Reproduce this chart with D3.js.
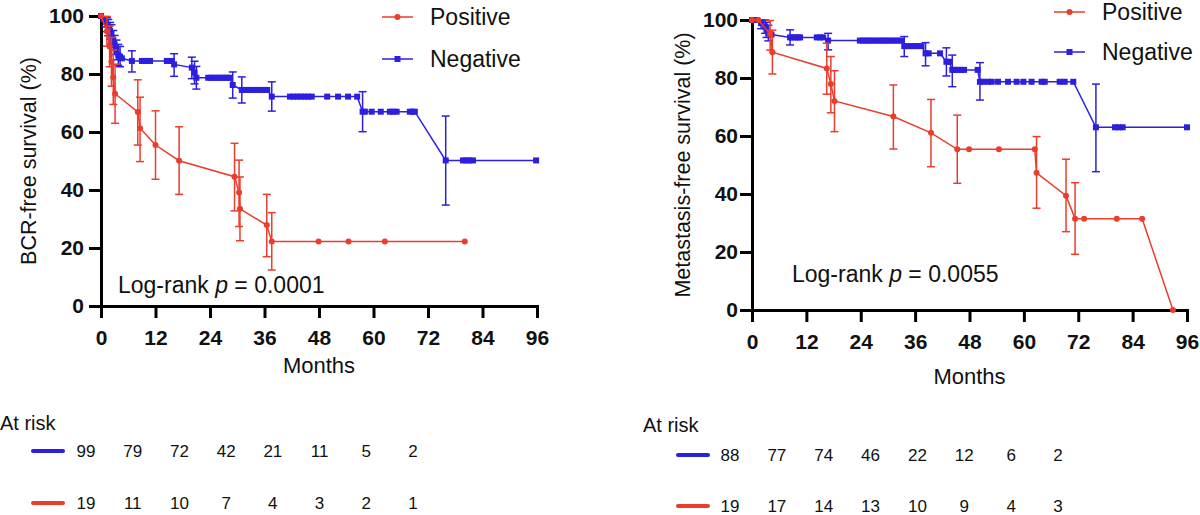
<!DOCTYPE html>
<html>
<head>
<meta charset="utf-8">
<script src="https://cdn.jsdelivr.net/npm/d3@7"></script>
<style>
  body { margin: 0; background: #fff; }
  text { font-family: "Liberation Sans", Arial, sans-serif; fill: #111; }
</style>
</head>
<body>
<script>
// ticks
var months = [0, 12, 24, 36, 48, 60, 72, 84, 96];
var percentTicks = [0, 20, 40, 60, 80, 100];
var riskMonths = [0, 12, 24, 36, 48, 60, 72, 84];

// [month, survival %, lower, upper]; points without bounds are censored marks
var bcrPositive = [
  [0, 100], [1.3, 94.7, 89.6, 99.8], [1.9, 89.5, 82.5, 96.5], [2.3, 84.2, 75.8, 92.6],
  [2.7, 78.9, 69.5, 88.3], [3.1, 73.2, 63.0, 83.4], [8.1, 66.9, 55.5, 78.0],
  [8.6, 61.3, 49.8, 72.0], [12.0, 55.5, 43.7, 67.3], [17.2, 50.1, 38.5, 61.8],
  [29.4, 44.6, 32.8, 56.1], [30.4, 39.1, 27.4, 50.3], [30.6, 33.5, 22.5, 44.5],
  [36.5, 27.9, 17.0, 38.5], [37.6, 22.2, 12.4, 32.2],
  [47.9, 22.2], [54.5, 22.2], [62.5, 22.2], [80.1, 22.2]
];
var bcrNegative = [
  [0, 100], [0.5, 99.0], [1.0, 98.0, 96.2, 99.8], [1.3, 97.0, 94.6, 99.4],
  [1.6, 96.0, 93.2, 98.8], [2.0, 94.9, 92.0, 97.8], [2.3, 93.8, 90.6, 97.0],
  [2.7, 91.7, 88.4, 95.0], [3.0, 90.0, 86.7, 93.3], [3.4, 88.3, 84.9, 91.7],
  [3.8, 86.6, 83.0, 90.2], [4.2, 86.0, 82.5, 89.5], [4.6, 85.4],
  [6.8, 84.5, 80.7, 88.0], [9.0, 84.5], [9.5, 84.5], [10.2, 84.5], [10.8, 84.5],
  [14.5, 84.5], [15.0, 84.5], [15.6, 84.5],
  [16.1, 83.3, 79.2, 87.0], [20.0, 82.2, 78.4, 85.8], [20.6, 80.5, 76.6, 84.4],
  [21.0, 78.7, 74.8, 82.6],
  [23.6, 78.7], [24.2, 78.7], [24.8, 78.7], [25.4, 78.7], [26.0, 78.7],
  [26.6, 78.7], [27.2, 78.7], [27.8, 78.7], [28.4, 78.7],
  [29.0, 76.2, 71.7, 80.7], [31.0, 74.5, 70.0, 79.0],
  [31.8, 74.5], [32.6, 74.5], [33.4, 74.5], [34.2, 74.5], [35.0, 74.5],
  [35.8, 74.5], [36.6, 74.5],
  [37.6, 72.2, 67.2, 77.3],
  [41.6, 72.2], [42.4, 72.2], [43.2, 72.2], [44.0, 72.2], [44.8, 72.2],
  [45.6, 72.2], [46.4, 72.2], [49.8, 72.2], [52.2, 72.2], [54.4, 72.2], [56.4, 72.2],
  [57.6, 67.0, 60.1, 73.9],
  [58.1, 67.0], [59.6, 67.0], [61.6, 67.0], [63.6, 67.0], [64.3, 67.0],
  [65.1, 67.0], [68.0, 67.0], [68.6, 67.0], [69.1, 67.0],
  [75.9, 50.2, 34.8, 65.5],
  [79.7, 50.2], [80.4, 50.2], [81.1, 50.2], [81.9, 50.2], [95.8, 50.2]
];
var metPositive = [
  [0, 100], [1.4, 100], [4.0, 95.2, 89.6, 99.8], [4.5, 88.9, 81.4, 96.5],
  [16.5, 83.3, 74.4, 92.0], [17.4, 77.9, 68.0, 87.4], [18.2, 72.1, 61.5, 82.5],
  [31.2, 66.7, 55.5, 77.6], [39.5, 61.1, 49.4, 72.6], [45.3, 55.4, 43.7, 67.2],
  [47.9, 55.4], [54.5, 55.4], [62.4, 55.4],
  [62.8, 47.3, 35.1, 59.8], [69.3, 39.4, 27.0, 52.0], [71.3, 31.5, 19.2, 43.9],
  [73.3, 31.5], [80.5, 31.5], [86.1, 31.5], [92.9, 0]
];
var metNegative = [
  [0, 100], [1.0, 100], [2.0, 98.9, 97.0, 100], [2.9, 97.7, 95.4, 100],
  [3.2, 96.6, 94.0, 99.2], [3.6, 95.5, 92.8, 98.2], [4.3, 95.0],
  [8.4, 94.0, 91.4, 96.6],
  [9.0, 94.0], [9.6, 94.0], [10.2, 94.0], [10.6, 94.0], [14.3, 94.0], [15.0, 94.0], [15.7, 94.0],
  [16.8, 92.9, 89.7, 95.4],
  [23.8, 92.9], [24.5, 92.9], [25.2, 92.9], [25.9, 92.9], [26.6, 92.9], [27.3, 92.9],
  [28.0, 92.9], [28.7, 92.9], [29.4, 92.9], [30.1, 92.9], [30.8, 92.9], [31.5, 92.9],
  [32.2, 92.9], [32.9, 92.9],
  [33.6, 91.0, 87.4, 94.3],
  [34.3, 91.0], [35.0, 91.0], [35.8, 91.0], [36.6, 91.0], [37.4, 91.0],
  [38.3, 88.5, 84.2, 92.2], [39.0, 88.5], [41.5, 88.5],
  [42.9, 85.6, 80.7, 90.4], [43.5, 85.6],
  [44.2, 82.8, 77.0, 87.9],
  [44.8, 82.8], [45.5, 82.8], [46.2, 82.8], [46.8, 82.8], [49.8, 82.8],
  [50.3, 78.7, 72.4, 85.3],
  [51.0, 78.7], [52.1, 78.7], [52.9, 78.7], [54.3, 78.7], [56.5, 78.7], [58.4, 78.7],
  [59.9, 78.7], [61.7, 78.7], [63.9, 78.7], [64.6, 78.7], [67.9, 78.7], [69.0, 78.7],
  [70.9, 78.7],
  [75.9, 63.0, 47.7, 77.9],
  [80.1, 63.0], [80.9, 63.0], [81.8, 63.0], [96.0, 63.0]
];

// numbers at risk
var bcrRiskNegative = [99, 79, 72, 42, 21, 11, 5, 2];
var bcrRiskPositive = [19, 11, 10, 7, 4, 3, 2, 1];
var metRiskNegative = [88, 77, 74, 46, 22, 12, 6, 2];
var metRiskPositive = [19, 17, 14, 13, 10, 9, 4, 3];

var red = '#ea3d2c';
var blue = '#2d1fe0';

var svg = d3.select('body').append('svg').attr('width', 1200).attr('height', 515);

function drawPanel(p) {
  var x = d3.scaleLinear().domain([0, 96]).range(p.xRange);
  var y = d3.scaleLinear().domain([0, 100]).range(p.yRange);
  var g = svg.append('g');

  var xAxis = g.append('g')
     .attr('transform', 'translate(0,' + p.yRange[0] + ')')
     .call(d3.axisBottom(x).tickValues(months).tickSize(12).tickSizeOuter(0).tickPadding(12));
  var yAxis = g.append('g')
     .attr('transform', 'translate(' + p.xRange[0] + ',0)')
     .call(d3.axisLeft(y).tickValues(percentTicks).tickSize(12).tickSizeOuter(0).tickPadding(p.yPad));
  [xAxis, yAxis].forEach(function(a) {
     a.select('.domain').attr('stroke', '#000').attr('stroke-width', 3).attr('stroke-linecap', 'square');
     a.selectAll('.tick line').attr('stroke', '#000').attr('stroke-width', 3);
     a.selectAll('.tick text').attr('font-size', 21).attr('font-weight', 'bold')
        .attr('font-family', '"Liberation Sans", Arial, sans-serif').attr('fill', '#111');
  });

  g.append('text')
     .attr('x', (p.xRange[0] + p.xRange[1]) / 2).attr('y', p.monthsY)
     .attr('text-anchor', 'middle').attr('font-size', 22).text('Months');
  g.append('text')
     .attr('transform', 'translate(' + p.yLabelX + ',' + (p.yRange[0] + p.yRange[1]) / 2 + ') rotate(-90)')
     .attr('text-anchor', 'middle').attr('font-size', 21.5).text(p.yLabel);

  var lr = g.append('text').attr('x', p.logRank[0]).attr('y', p.logRank[1]).attr('font-size', 23);
  lr.append('tspan').text('Log-rank ');
  lr.append('tspan').attr('font-style', 'italic').text('p');
  lr.append('tspan').text(' = ' + p.pValue);

  var line = d3.line().x(function(d) { return x(d[0]); }).y(function(d) { return y(d[1]); });

  p.series.forEach(function(s) {
     var sg = g.append('g');
     sg.append('path').datum(s.data).attr('d', line)
        .attr('fill', 'none').attr('stroke', s.color).attr('stroke-width', 1.5);

     var bars = s.data.filter(function(d) { return d.length > 2; });
     sg.selectAll('line.err').data(bars).enter().append('line')
        .attr('x1', function(d) { return x(d[0]); }).attr('x2', function(d) { return x(d[0]); })
        .attr('y1', function(d) { return y(d[2]); }).attr('y2', function(d) { return y(d[3]); })
        .attr('stroke', s.color).attr('stroke-width', 1.5);
     [2, 3].forEach(function(k) {
        sg.selectAll('line.cap' + k).data(bars).enter().append('line')
           .attr('x1', function(d) { return x(d[0]) - 4; }).attr('x2', function(d) { return x(d[0]) + 4; })
           .attr('y1', function(d) { return y(d[k]); }).attr('y2', function(d) { return y(d[k]); })
           .attr('stroke', s.color).attr('stroke-width', 1.5);
     });

     if (s.shape === 'square') {
        sg.selectAll('rect').data(s.data).enter().append('rect')
           .attr('x', function(d) { return x(d[0]) - 3; }).attr('y', function(d) { return y(d[1]) - 3; })
           .attr('width', 6).attr('height', 6).attr('fill', s.color);
     } else {
        sg.selectAll('circle').data(s.data).enter().append('circle')
           .attr('cx', function(d) { return x(d[0]); }).attr('cy', function(d) { return y(d[1]); })
           .attr('r', 3).attr('fill', s.color);
     }
  });

  // legend
  p.legend.forEach(function(l) {
     var lg = g.append('g');
     lg.append('line').attr('x1', l.x).attr('x2', l.x + 31).attr('y1', l.y).attr('y2', l.y)
        .attr('stroke', l.color).attr('stroke-width', 1.5);
     if (l.shape === 'square') {
        lg.append('rect').attr('x', l.x + 12.5).attr('y', l.y - 3).attr('width', 6).attr('height', 6).attr('fill', l.color);
     } else {
        lg.append('circle').attr('cx', l.x + 15.5).attr('cy', l.y).attr('r', 3).attr('fill', l.color);
     }
     lg.append('text').attr('x', l.x + 48).attr('y', l.y).attr('dy', '0.35em')
        .attr('font-size', 23).text(l.label);
  });

  // at risk table
  var col = d3.scalePoint().domain(riskMonths).range(p.riskCols);
  g.append('text').attr('x', p.riskTitle[0]).attr('y', p.riskTitle[1]).attr('font-size', 20).text('At risk');
  p.risk.forEach(function(r) {
     g.append('line').attr('x1', p.riskLineX).attr('x2', p.riskLineX + 30)
        .attr('y1', r.y).attr('y2', r.y)
        .attr('stroke', r.color).attr('stroke-width', 4).attr('stroke-linecap', 'round');
     g.selectAll(null).data(r.values).enter().append('text')
        .attr('x', function(d, i) { return col(riskMonths[i]); }).attr('y', r.y).attr('dy', '0.36em')
        .attr('text-anchor', 'middle').attr('font-size', 17)
        .text(function(d) { return d; });
  });
}

drawPanel({
  xRange: [101, 537], yRange: [306, 16], yPad: 5,
  yLabel: 'BCR-free survival (%)', yLabelX: 36, monthsY: 373,
  logRank: [118, 293], pValue: '0.0001',
  series: [
     { data: bcrNegative, color: blue, shape: 'square' },
     { data: bcrPositive, color: red, shape: 'circle' }
  ],
  legend: [
     { x: 382, y: 17, color: red, shape: 'circle', label: 'Positive' },
     { x: 382, y: 59, color: blue, shape: 'square', label: 'Negative' }
  ],
  riskTitle: [0, 430], riskLineX: 33, riskCols: [86, 413],
  risk: [
     { values: bcrRiskNegative, color: blue, y: 451 },
     { values: bcrRiskPositive, color: red, y: 503 }
  ]
});

drawPanel({
  xRange: [752, 1187], yRange: [310, 20], yPad: 2,
  yLabel: 'Metastasis-free survival (%)', yLabelX: 690, monthsY: 384,
  logRank: [792, 282], pValue: '0.0055',
  series: [
     { data: metNegative, color: blue, shape: 'square' },
     { data: metPositive, color: red, shape: 'circle' }
  ],
  legend: [
     { x: 1054, y: 12, color: red, shape: 'circle', label: 'Positive' },
     { x: 1054, y: 52, color: blue, shape: 'square', label: 'Negative' }
  ],
  riskTitle: [643, 432], riskLineX: 678, riskCols: [730, 1058],
  risk: [
     { values: metRiskNegative, color: blue, y: 455 },
     { values: metRiskPositive, color: red, y: 506 }
  ]
});
</script>
</body>
</html>
